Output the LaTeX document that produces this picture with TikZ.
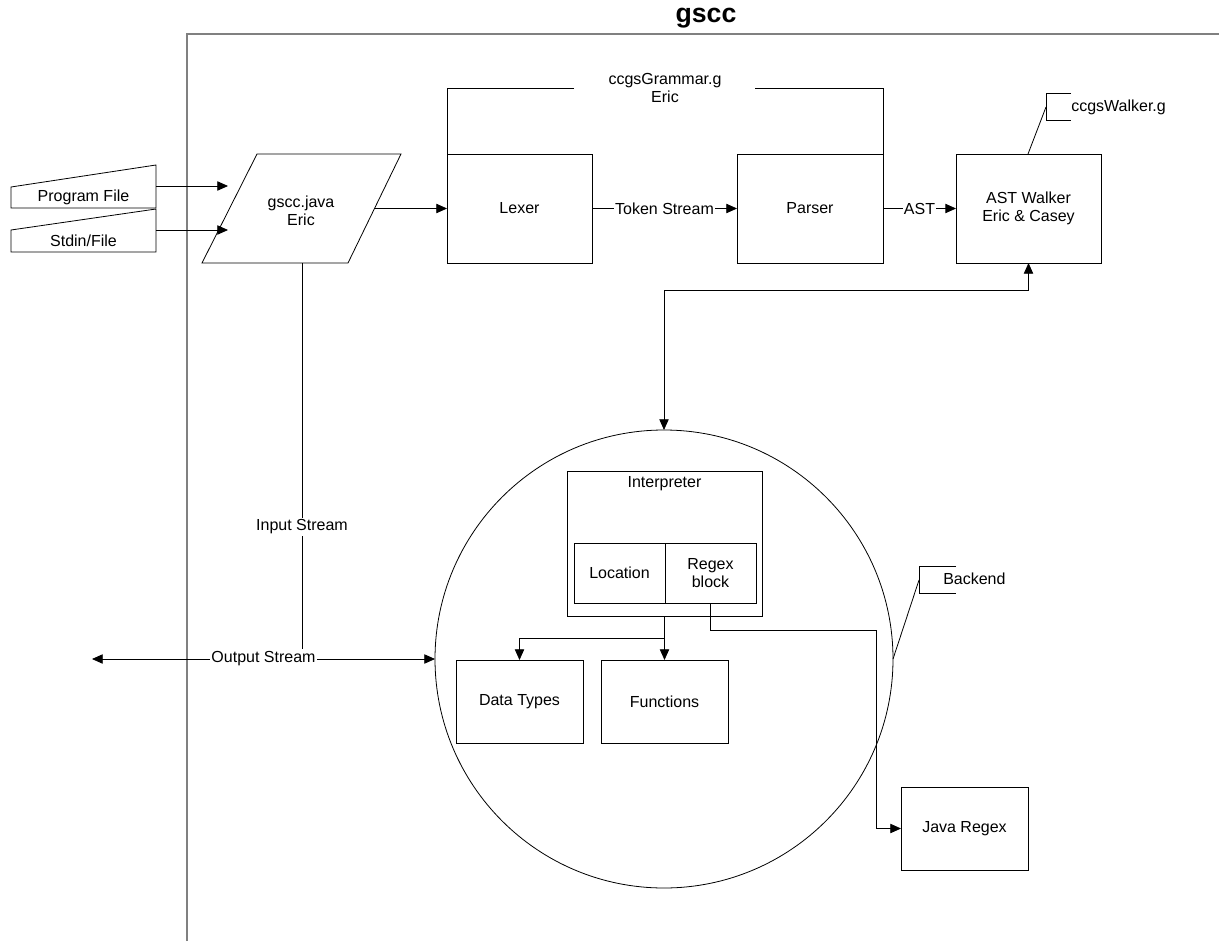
\documentclass[tikz,border=0pt]{standalone}
\usepackage{fontspec}
\setmainfont{Liberation Sans}
\usetikzlibrary{arrows.meta,calc}
\begin{document}
\begin{tikzpicture}[x=0.75pt,y=-0.75pt,
  every node/.style={font=\fontsize{12}{13.5}\selectfont},
  ln/.style={line width=0.6pt},
  arr/.style={ln,-{Triangle[length=8pt,width=7pt]}},
  darr/.style={ln,{Triangle[length=8pt,width=7pt]}-{Triangle[length=8pt,width=7pt]}},
  box/.style={draw,ln,inner sep=0pt,outer sep=0pt,align=center},
  lbl/.style={fill=white,inner sep=1pt},
  frame/.style={draw=gray,line width=1pt},
]
\useasboundingbox (0,0) rectangle (1219,941);
% title and frame
\node[font=\bfseries\fontsize{20}{24}\selectfont] (title) at (706,18) {gscc};
\draw[frame] (187,941) -- (187,34) -- (1219,34);

% manual inputs
\draw[ln] (11,187) -- (156,165) -- (156,208) -- (11,208) -- cycle;
\node (pf) at (83.5,197) {Program File};
\draw[ln] (11,230) -- (156,209) -- (156,252) -- (11,252) -- cycle;
\node (sf) at (83.5,241) {Stdin/File};
\coordinate (pfo) at (156,186);
\coordinate (sfo) at (156,230);
\coordinate (gjin1) at (228,186);
\coordinate (gjin2) at (228,230);
\draw[arr] (pfo) -- (gjin1);
\draw[arr] (sfo) -- (gjin2);

% gscc.java parallelogram
\draw[ln] (257,154) -- (401,154) -- (348,263) -- (202,263) -- cycle;
\node[align=center] (gj) at (301,211) {gscc.java\\Eric};
\coordinate (gjr) at (375,208.5);
\coordinate (gjb) at (302,263);

% lexer, parser, walker
\node[box,minimum width=108.75pt,minimum height=81.75pt] (lex) at (519.5,208.5) {Lexer};
\node[box,minimum width=109.5pt,minimum height=81.75pt] (par) at (810,208.5) {Parser};
\node[box,minimum width=108.75pt,minimum height=81.75pt] (wlk) at (1028.5,208.5) {AST Walker\\Eric \& Casey};
\draw[arr] (gjr) -- (lex.west);
\draw[arr] (lex.east) -- node[lbl]{Token Stream} (par.west);
\draw[arr] (par.east) -- node[lbl]{AST} (wlk.west);

% grammar bracket
\draw[ln] (574,88) -- (447,88) -- (447,179);
\draw[ln] (755,88) -- (883,88) -- (883,154);
\node[align=center] (gram) at (665,88) {ccgsGrammar.g\\Eric};

% walker annotation
\draw[ln] (1071,93) -- (1046,93) -- (1046,120) -- (1071,120);
\node[anchor=west,inner sep=0pt] (cw) at (1071,107) {ccgsWalker.g};
\coordinate (cwb) at (1046,107);
\coordinate (wt) at (1028,154);
\draw[ln] (cwb) -- (wt);

% backend circle
\node[draw,ln,circle,minimum size=343.5pt,inner sep=0pt,outer sep=0pt] (be) at (664,659) {};
\coordinate (bend) at (664,290);
\draw[darr] (wlk.south) |- (bend) -- (be.north);

% interpreter
\node[box,minimum width=146.25pt,minimum height=108.75pt] (int) at (664.5,543.5) {};
\node (intl) at (664.5,484) {Interpreter};
\node[box,minimum width=68.25pt,minimum height=45pt] (loc) at (619.5,573) {Location};
\node[box,minimum width=68.25pt,minimum height=45pt] (rx) at (710.5,573) {Regex\\block};
\node[box,minimum width=95.25pt,minimum height=62.25pt] (dt) at (519.5,701.5) {Data Types};
\node[box,minimum width=95.25pt,minimum height=62.25pt] (fn) at (664.5,701.5) {Functions};
\node[box,minimum width=95.25pt,minimum height=62.25pt] (jr) at (964.5,828.5) {Java Regex};
\draw[arr] (int.south) -- (fn.north);
\coordinate (split) at (664.5,638);
\draw[arr] (split) -| (dt.north);
\coordinate (rc) at (876,630);
\draw[arr] (rx.south) |- (rc) |- (jr.west);

% backend annotation
\draw[ln] (956,566) -- (919,566) -- (919,593) -- (956,593);
\node[anchor=west,inner sep=0pt] (bl) at (943,579) {Backend};
\coordinate (blb) at (919,580);
\draw[ln] (blb) -- (be.east);

% streams
\coordinate (isend) at (302,649);
\draw[ln] (gjb) -- node[lbl,pos=0.684]{Input Stream} (isend);
\coordinate (os) at (92,659);
\draw[darr] (os) -- node[lbl,pos=0.5]{Output Stream} (be.west);
\end{tikzpicture}
\end{document}
